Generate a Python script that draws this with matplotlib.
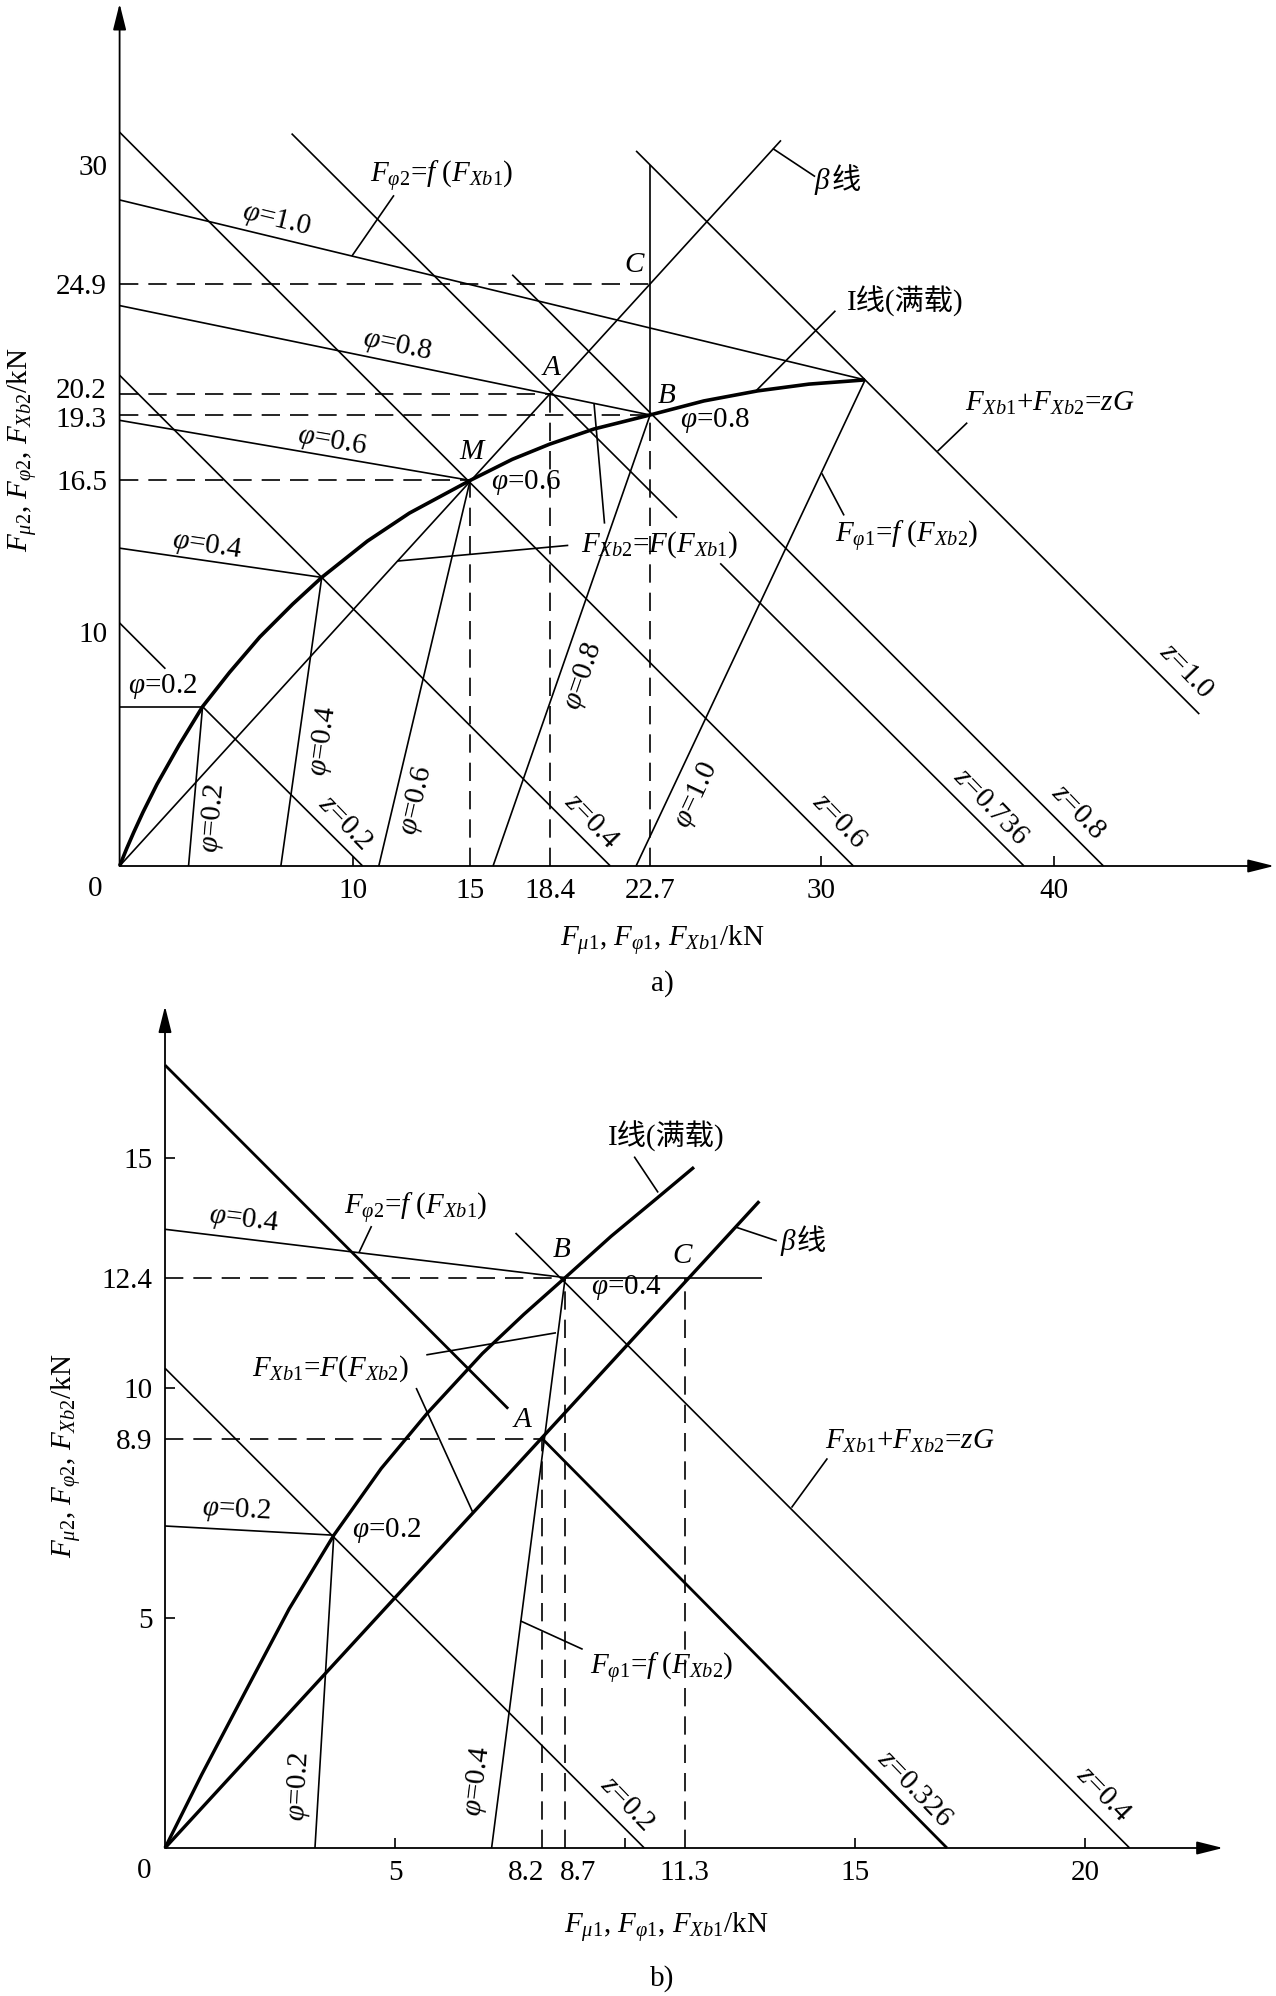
import numpy as np
import matplotlib
matplotlib.use("Agg")
import matplotlib.pyplot as plt

plt.rcParams['font.family'] = ['Liberation Serif', 'Noto Sans CJK SC']
plt.rcParams['mathtext.fontset'] = 'custom'
plt.rcParams['mathtext.rm'] = 'Liberation Serif'
plt.rcParams['mathtext.it'] = 'Liberation Serif:italic'
plt.rcParams['mathtext.bf'] = 'Liberation Serif:bold'

#---------------- a) all values in kN ----------------#
a_phi = ['0.2', '0.4', '0.6', '0.8', '1.0']
a_lock_x = [3.55, 8.65, 15.0, 22.7, 31.9]      # I-curve point of each phi
a_lock_y = [6.82, 12.35, 16.5, 19.3, 20.8]
a_f_start = [6.82, 13.6, 19.07, 23.98, 28.5]   # f lines start on y axis
a_r_start = [2.95, 6.9, 11.09, 15.98, 22.1]    # r lines start on x axis

a_curve_x = [0, 0.3, 0.6, 1.0, 1.6, 2.55, 3.55, 4.7, 6.0, 7.4, 8.65, 10.6,
             12.4, 15.0, 16.8, 18.4, 20.3, 22.7, 25.0, 27.3, 29.5, 31.9]
a_curve_y = [0, 0.74, 1.43, 2.3, 3.5, 5.18, 6.82, 8.28, 9.8, 11.2, 12.35, 13.9,
             15.1, 16.5, 17.4, 18.05, 18.7, 19.3, 19.9, 20.33, 20.62, 20.8]

# z lines F_Xb1 + F_Xb2 = zG, broken where a label sits
a_z = ['0.2', '0.4', '0.6', '0.736', '0.8', '1.0']
a_z_segs = [
    [[(0, 10.4), (1.96, 8.44)], [(3.55, 6.82), (10.4, 0)]],
    [[(0, 21.0), (21.0, 0)]],
    [[(0, 31.4), (31.4, 0)]],
    [[(7.36, 31.34), (23.85, 14.9)], [(25.7, 12.95), (38.7, 0)]],
    [[(16.8, 25.3), (42.1, 0)]],
    [[(22.1, 30.6), (46.2, 6.5)]],
]
a_beta_x = [0, 28.3]
a_beta_y = [0, 31.05]
a_M = (15.0, 16.5)
a_A = (18.4, 20.2)
a_B = (22.7, 19.3)
a_C = (22.7, 24.9)
a_vert_top = 30.0

a_xticks = [10, 15, 18.4, 22.7, 30, 40]
a_xmarks = [10, 30, 40]
a_yticks = [10, 16.5, 24.9, 30]
a_yclose = [20.2, 19.3]          # labels written by hand, they sit close

#---------------- b) all values in kN ----------------#
b_phi = ['0.2', '0.4']
b_lock_x = [3.67, 8.7]
b_lock_y = [6.8, 12.4]
b_f_start = [7.0, 13.45]
b_r_start = [3.26, 7.1]
b_f_extra_x = [8.7, 12.97]       # horizontal line right of B
b_f_extra_y = [12.4, 12.4]

b_curve_x = [0, 0.8, 1.8, 2.7, 3.67, 4.7, 5.7, 6.9, 7.8, 8.7, 9.7, 10.7, 11.5]
b_curve_y = [0, 1.6, 3.5, 5.2, 6.8, 8.25, 9.45, 10.75, 11.6, 12.4, 13.3, 14.13, 14.8]

b_z = ['0.2', '0.326', '0.4']
b_z_segs = [
    [[(0, 10.43), (10.42, 0)]],
    [[(0, 17.02), (7.46, 9.55)], [(8.2, 8.9), (17.0, 0)]],
    [[(7.62, 13.37), (20.97, 0)]],
]
b_beta_x = [0, 12.92]
b_beta_y = [0, 14.06]
b_A = (8.2, 8.9)
b_B = (8.7, 12.4)
b_C = (11.3, 12.4)

b_xticks = [5, 11.3, 15, 20]
b_xclose = [8.2, 8.7]            # labels written by hand, they sit close
b_xmarks = [5, 10, 15, 20]
b_yticks = [5, 8.9, 10, 12.4, 15]
b_ymarks = [5, 10, 15]

FS = 21
LW = 1.2
DASH = (0, (11, 6))

fig = plt.figure(figsize=(12.76, 19.96), dpi=100)
W, H = 1276.0, 1996.0


def make_ax(x0, y0, kx, ky, xmax, ymax):
    # x0,y0 = origin in pixels (from top-left), kx,ky = px per kN
    ax = fig.add_axes([x0 / W, (H - y0) / H, xmax * kx / W, ymax * ky / H])
    ax.set_xlim(0, xmax)
    ax.set_ylim(0, ymax)
    for s in ax.spines.values():
        s.set_visible(False)
    ax.xaxis.remove_overlapping_locs = False
    ax.yaxis.remove_overlapping_locs = False
    arr = dict(arrowstyle='-|>,head_length=0.8,head_width=0.2', lw=1.3,
               color='k', shrinkA=0, shrinkB=0, mutation_scale=20)
    ax.annotate('', xy=(xmax, 0), xytext=(0, 0), arrowprops=arr, annotation_clip=False)
    ax.annotate('', xy=(0, ymax), xytext=(0, 0), arrowprops=arr, annotation_clip=False)
    return ax


def seg(ax, xs, ys, lw=LW, **kw):
    ax.plot(xs, ys, color='k', lw=lw, solid_capstyle='butt', clip_on=False, **kw)


def txt(ax, x, y, s, rot=0, **kw):
    kw.setdefault('ha', 'center')
    ax.text(x, y, s, fontsize=FS, rotation=rot, va='center',
            rotation_mode='anchor', **kw)


def ticks(ax, xt, yt, xm, ym):
    ax.set_xticks(xt)
    ax.set_xticklabels(['%g' % v for v in xt])
    ax.set_yticks(yt)
    ax.set_yticklabels(['%g' % v for v in yt])
    ax.tick_params(which='major', length=0, labelsize=FS)
    ax.tick_params(axis='x', which='major', pad=9)
    ax.tick_params(axis='y', which='major', pad=9)
    ax.set_xticks(xm, minor=True)
    ax.set_yticks(ym, minor=True)
    ax.tick_params(which='minor', direction='in', length=7, width=LW)


#================= chart a =================#
ax = make_ax(119.6, 866, 23.37, 23.37, 49.4, 36.9)
ticks(ax, a_xticks, a_yticks, a_xmarks, [])
ax.text(-1.03, -0.98, '0', fontsize=FS, ha='center', va='center')
ax.text(-0.55, a_yclose[0] + 0.12, '%g' % a_yclose[0], fontsize=FS, ha='right', va='center')
ax.text(-0.55, a_yclose[1] - 0.22, '%g' % a_yclose[1], fontsize=FS, ha='right', va='center')

seg(ax, a_curve_x, a_curve_y, lw=2.6)
seg(ax, a_beta_x, a_beta_y)
for i in range(len(a_phi)):
    seg(ax, [0, a_lock_x[i]], [a_f_start[i], a_lock_y[i]])
    seg(ax, [a_r_start[i], a_lock_x[i]], [0, a_lock_y[i]])
for segs in a_z_segs:
    for p in segs:
        seg(ax, [p[0][0], p[1][0]], [p[0][1], p[1][1]])
seg(ax, [a_B[0], a_B[0]], [a_B[1], a_vert_top])

# dashed guides
for P in [a_M, a_A, a_B]:
    seg(ax, [0, P[0]], [P[1], P[1]], lw=LW, ls=DASH)
    seg(ax, [P[0], P[0]], [0, P[1]], lw=LW, ls=DASH)
seg(ax, [0, a_C[0]], [a_C[1], a_C[1]], lw=LW, ls=DASH)

# leaders
seg(ax, [11.74, 9.94], [28.7, 26.1])
seg(ax, [30.63, 27.18], [23.76, 20.28])
seg(ax, [36.27, 35.0], [18.97, 17.75])
seg(ax, [27.95, 29.76], [30.7, 29.5])
seg(ax, [19.2, 11.9], [13.72, 13.05])
seg(ax, [20.75, 20.3], [14.65, 19.8])
seg(ax, [31.0, 30.05], [15.0, 16.8])

# labels
txt(ax, 13.8, 29.5, r'$F_{\varphi 2}$=$f$ ($F_{Xb1}$)')
txt(ax, 6.7, 27.65, r'$\varphi$=1.0', rot=-13.5)
txt(ax, 11.87, 22.27, r'$\varphi$=0.8', rot=-11.6)
txt(ax, 9.07, 18.16, r'$\varphi$=0.6', rot=-9.7)
txt(ax, 3.74, 13.69, r'$\varphi$=0.4', rot=-8.4)
txt(ax, 1.82, 7.67, r'$\varphi$=0.2')
txt(ax, 17.37, 16.39, r'$\varphi$=0.6')
txt(ax, 25.48, 19.08, r'$\varphi$=0.8')
txt(ax, 15.04, 17.73, 'M', style='italic')
txt(ax, 18.5, 21.3, 'A', style='italic')
txt(ax, 23.4, 20.1, 'B', style='italic')
txt(ax, 22.0, 25.7, 'C', style='italic')
txt(ax, 33.6, 24.15, 'I线(满载)')
txt(ax, 39.8, 19.8, r'$F_{Xb1}$+$F_{Xb2}$=$zG$')
txt(ax, 23.1, 13.75, r'$F_{Xb2}$=$F$($F_{Xb1}$)')
txt(ax, 33.7, 14.1, r'$F_{\varphi 1}$=$f$ ($F_{Xb2}$)')
txt(ax, 30.45, 29.3, r'$\beta$', ha='right')
txt(ax, 30.45, 29.3, '线', ha='left')
r_pos = [(4.0, 2.05, 85), (8.73, 5.36, 82), (12.7, 2.8, 77), (19.86, 8.1, 71), (24.7, 3.04, 65)]
for i, (x, y, r) in enumerate(r_pos):
    txt(ax, x, y, r'$\varphi$=' + a_phi[i], rot=r)
z_pos = [(9.65, 1.83), (20.2, 1.9), (30.8, 1.9), (37.26, 2.54), (41.0, 2.3), (45.66, 8.32)]
for i, (x, y) in enumerate(z_pos):
    txt(ax, x, y, r'$z$=' + a_z[i], rot=-46)

fig.text(662 / W, 1 - 940 / H, r'$F_{\mu 1}$, $F_{\varphi 1}$, $F_{Xb1}$/kN',
         fontsize=FS, ha='center', va='center')
fig.text(662 / W, 1 - 984 / H, 'a)', fontsize=FS, ha='center', va='center')
fig.text(22 / W, 1 - 450 / H, r'$F_{\mu 2}$, $F_{\varphi 2}$, $F_{Xb2}$/kN',
         fontsize=FS, ha='center', va='center', rotation=90)

#================= chart b =================#
bx = make_ax(165, 1848, 46, 46, 23.0, 18.3)
ticks(bx, b_xticks, b_yticks, b_xmarks, b_ymarks)
bx.text(-0.46, -0.5, '0', fontsize=FS, ha='center', va='center')
bx.text(b_xclose[0] + 0.05, -0.27, '%g' % b_xclose[0], fontsize=FS, ha='right', va='top')
bx.text(b_xclose[1] - 0.12, -0.27, '%g' % b_xclose[1], fontsize=FS, ha='left', va='top')

seg(bx, b_curve_x, b_curve_y, lw=2.4)
seg(bx, b_beta_x, b_beta_y, lw=2.4)
for i in range(len(b_phi)):
    seg(bx, [0, b_lock_x[i]], [b_f_start[i], b_lock_y[i]])
    seg(bx, [b_r_start[i], b_lock_x[i]], [0, b_lock_y[i]])
seg(bx, b_f_extra_x, b_f_extra_y)
for j, segs in enumerate(b_z_segs):
    for p in segs:
        seg(bx, [p[0][0], p[1][0]], [p[0][1], p[1][1]], lw=2.0 if j == 1 else LW)

for P in [b_A, b_B, b_C]:
    seg(bx, [P[0], P[0]], [0, P[1]], lw=LW, ls=DASH)
for P in [b_A, b_B]:
    seg(bx, [0, P[0]], [P[1], P[1]], lw=LW, ls=DASH)

# leaders
seg(bx, [4.49, 4.22], [13.52, 12.95])
seg(bx, [5.68, 8.5], [10.72, 11.2])
seg(bx, [5.46, 6.69], [10.0, 7.3])
seg(bx, [9.08, 7.72], [4.32, 4.94])
seg(bx, [14.4, 13.62], [8.47, 7.4])
seg(bx, [10.2, 10.72], [15.03, 14.25])
seg(bx, [13.3, 12.4], [13.2, 13.5])

txt(bx, 1.72, 13.65, r'$\varphi$=0.4', rot=-7)
txt(bx, 5.46, 13.9, r'$F_{\varphi 2}$=$f$ ($F_{Xb1}$)')
txt(bx, 1.54, 7.33, r'$\varphi$=0.2', rot=-3)
txt(bx, 4.82, 6.9, r'$\varphi$=0.2')
txt(bx, 10.02, 12.18, r'$\varphi$=0.4')
txt(bx, 8.62, 13.0, 'B', style='italic')
txt(bx, 7.77, 9.3, 'A', style='italic')
txt(bx, 11.25, 12.87, 'C', style='italic')
txt(bx, 3.6, 10.43, r'$F_{Xb1}$=$F$($F_{Xb2}$)')
txt(bx, 10.8, 3.9, r'$F_{\varphi 1}$=$f$ ($F_{Xb2}$)')
txt(bx, 16.2, 8.83, r'$F_{Xb1}$+$F_{Xb2}$=$zG$')
txt(bx, 10.9, 15.46, 'I线(满载)')
txt(bx, 13.74, 13.17, r'$\beta$', ha='right')
txt(bx, 13.74, 13.17, '线', ha='left')
txt(bx, 2.91, 1.33, r'$\varphi$=0.2', rot=87)
txt(bx, 6.8, 1.46, r'$\varphi$=0.4', rot=83)
bz_pos = [(10.04, 0.95), (16.3, 1.28), (20.4, 1.17)]
for i, (x, y) in enumerate(bz_pos):
    txt(bx, x, y, r'$z$=' + b_z[i], rot=-46)

fig.text(666 / W, 1 - 1927 / H, r'$F_{\mu 1}$, $F_{\varphi 1}$, $F_{Xb1}$/kN',
         fontsize=FS, ha='center', va='center')
fig.text(662 / W, 1 - 1979 / H, 'b)', fontsize=FS, ha='center', va='center')
fig.text(66 / W, 1 - 1456 / H, r'$F_{\mu 2}$, $F_{\varphi 2}$, $F_{Xb2}$/kN',
         fontsize=FS, ha='center', va='center', rotation=90)

fig.savefig('out.png', dpi=100)
